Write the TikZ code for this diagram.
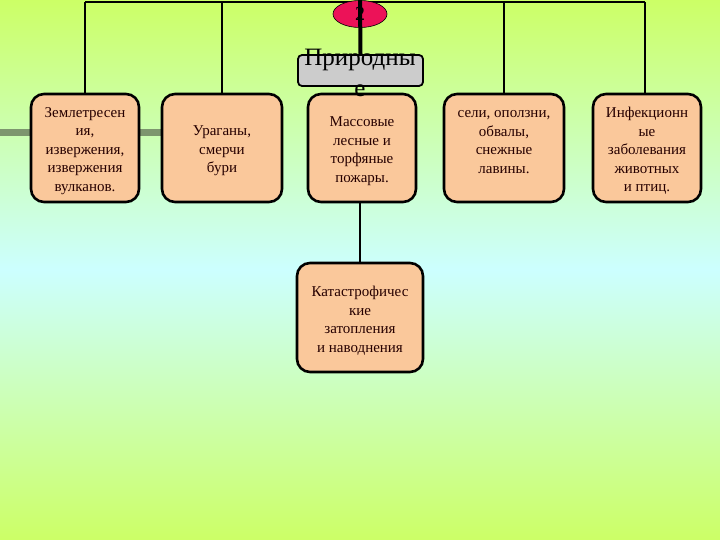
\documentclass[tikz,border=0pt]{standalone}
\usepackage{fontspec}
\setmainfont{Liberation Serif}
\usetikzlibrary{shapes.geometric}
\definecolor{bgtop}{RGB}{204,255,102}
\definecolor{bgmid}{RGB}{204,255,255}
\definecolor{peach}{RGB}{250,200,155}
\definecolor{grbox}{RGB}{204,204,204}
\definecolor{crim}{RGB}{236,18,88}
\definecolor{barcol}{RGB}{125,150,110}
\tikzset{
  hazard/.style={draw=black, line width=2.6pt, fill=peach, rounded corners=13pt,
    minimum height=108pt, inner sep=0pt},
  hztext/.style={align=center, inner sep=0pt,
    font=\fontsize{15}{18.5}\selectfont, text=black!85!red},
  link/.style={draw=black, line width=1.8pt},
  thick link/.style={draw=black, line width=4pt},
}
\begin{document}
\begin{tikzpicture}[x=1pt,y=-1pt]
\useasboundingbox (0,0) rectangle (720,540);
\shade[top color=bgtop, bottom color=bgmid] (0,0) rectangle (720,270);
\shade[top color=bgmid, bottom color=bgtop] (0,270) rectangle (720,540);
% gray bar
\coordinate (barL) at (0,133);
\coordinate (barR) at (162,133);
\draw[barcol, line width=7pt] (barL) -- (barR);
% boxes
\node[hazard, minimum width=108pt] (b1) at (85,148) {};
\node[hazard, minimum width=120pt] (b2) at (222,148) {};
\node[hazard, minimum width=108pt] (b3) at (362,148) {};
\node[hazard, minimum width=120pt] (b4) at (504,148) {};
\node[hazard, minimum width=108pt] (b5) at (647,148) {};
\node[hazard, minimum width=126pt, minimum height=109pt] (b6) at (360,317.5) {};
\node[hztext] (b1t) at ([yshift=-3pt]b1.center) {Землетресен\\ия,\\извержения,\\извержения\\вулканов.};
\node[hztext] (b2t) at ([yshift=-3pt]b2.center) {Ураганы,\\смерчи\\бури};
\node[hztext] (b3t) at ([yshift=-3pt]b3.center) {Массовые\\лесные и\\торфяные\\пожары.};
\node[hztext] (b4t) at ([yshift=6pt]b4.center) {сели, оползни,\\обвалы,\\снежные\\лавины.};
\node[hztext] (b5t) at ([yshift=-3pt]b5.center) {Инфекционн\\ые\\заболевания\\животных\\и птиц.};
\node[hztext] (b6t) at ([yshift=-3pt]b6.center) {Катастрофичес\\кие\\затопления\\и наводнения};
% top connectors
\coordinate (t1) at (85,2);
\coordinate (t2) at (222,2);
\coordinate (t4) at (504,2);
\coordinate (t5) at (645,2);
\draw[link] (t1) -- (t5);
\draw[link] (t1) -- (t1 |- b1.north);
\draw[link] (t2) -- (t2 |- b2.north);
\draw[link] (t4) -- (t4 |- b4.north);
\draw[link] (t5) -- (t5 |- b5.north);
% gray title box
\node[draw=black, line width=1.8pt, fill=grbox, rounded corners=4pt,
      minimum width=125pt, minimum height=31pt] (g) at (360.5,70.5) {};
% ellipse
\node[ellipse, draw=black, line width=0.6pt, fill=crim, minimum width=54pt, minimum height=27pt,
      inner sep=0pt, font=\fontsize{20}{20}\selectfont] (e) at (360,14) {2};
\coordinate (top) at (360,0);
\draw[thick link] (top) -- (g.north);
% title text
\node[align=center, font=\fontsize{25}{31}\selectfont, inner sep=0pt] (gt) at (360,72.5) {Природны\\е};
% lower connector
\draw[link] (b3.south -| b6.north) -- (b6.north);
\end{tikzpicture}
\end{document}
